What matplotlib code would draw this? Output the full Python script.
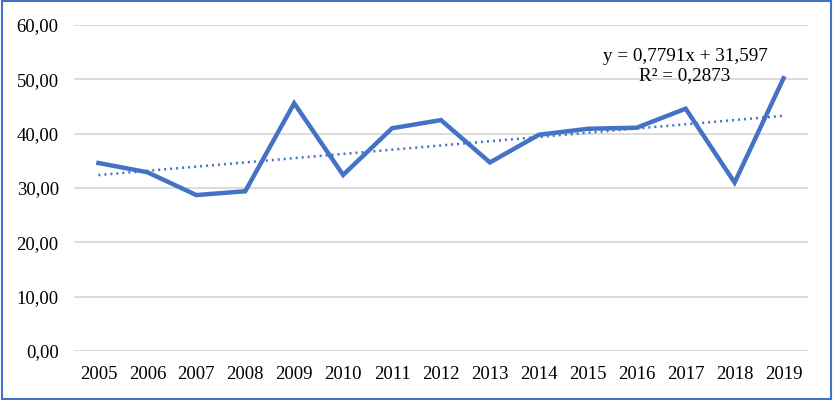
import matplotlib
matplotlib.use('Agg')
import matplotlib.pyplot as plt
from matplotlib.patches import Rectangle

years = ['2005', '2006', '2007', '2008', '2009', '2010', '2011', '2012',
         '2013', '2014', '2015', '2016', '2017', '2018', '2019']
values = [34.6, 32.9, 28.7, 29.4, 45.6, 32.4, 41.0, 42.5,
          34.7, 39.8, 40.9, 41.1, 44.6, 31.0, 50.2]
trend_slope = 0.7791
trend_intercept = 31.597
trend_r2 = 0.2873
y_ticks = [0, 10, 20, 30, 40, 50, 60]

BLUE = '#4472C4'
plt.rcParams['font.family'] = ['Liberation Serif', 'DejaVu Serif']

fig = plt.figure(figsize=(8.33, 4.0), dpi=100)
ax = fig.add_axes([0.0888, 0.1225, 0.8812, 0.815])

x = list(range(len(years)))
ax.plot(x, values, color=BLUE, lw=3.2, solid_joinstyle='miter', zorder=3)

# linear trend line (Excel style, x = 1..n)
trend = [trend_slope * (i + 1) + trend_intercept for i in x]
ax.plot(x, trend, color=BLUE, lw=1.8, ls=(0, (0.8, 1.6)), zorder=2)

ax.set_xlim(-0.5, len(years) - 0.5)
ax.set_ylim(0, 60)
ax.set_yticks(y_ticks)
ax.set_yticklabels(['{:.2f}'.format(v).replace('.', ',') for v in y_ticks])
ax.set_xticks(x)
ax.set_xticklabels(years)
ax.grid(axis='y', color='#D9D9D9', lw=1.3)
ax.set_axisbelow(True)
for s in ax.spines.values():
    s.set_visible(False)
ax.tick_params(length=0, labelsize=13.5, colors='black')
ax.tick_params(axis='y', pad=11)
ax.tick_params(axis='x', pad=11)

eq = 'y = {}x + {}\nR² = {}'.format(str(trend_slope).replace('.', ','),
                                   str(trend_intercept).replace('.', ','),
                                   str(trend_r2).replace('.', ','))
fig.text(685 / 833, 1 - 66 / 400, eq, ha='center', va='center',
         fontsize=13.8, linespacing=1.15)

fig.patches.append(Rectangle((0.002, 0.003), 0.996, 0.994, transform=fig.transFigure,
                             fill=False, edgecolor=BLUE, lw=1.5))

fig.savefig('out.png', dpi=100)
